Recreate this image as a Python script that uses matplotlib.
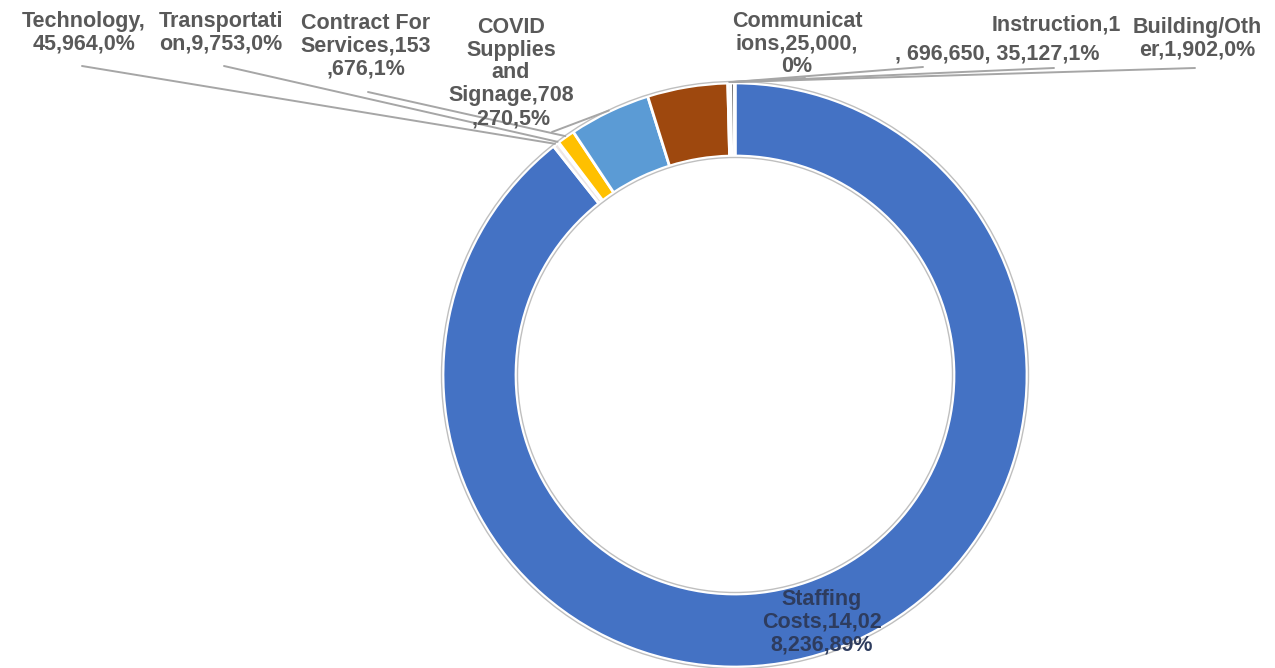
import numpy as np
import matplotlib
matplotlib.use("Agg")
import matplotlib.pyplot as plt
from matplotlib.patches import Circle

# slices, clockwise from 12 o'clock
categories = ["Staffing Costs", "Technology", "Transportation", "Contract For Services",
              "COVID Supplies and Signage", "Instruction", "Communications", "Other",
              "Building/Other"]
amounts = [14028236, 45964, 9753, 153676, 708270, 696650, 25000, 35127, 1902]
colors = ["#4472C4", "#EDE6E6", "#A5A5A5", "#FFC000", "#5B9BD5", "#9E480E",
          "#7F7F7F", "#636363", "#A5A5A5"]

# label texts as printed on the chart
label_texts = ["Technology,\n45,964,0%", "Transportati\non,9,753,0%",
               "Contract For\nServices,153\n,676,1%",
               "COVID\nSupplies\nand\nSignage,708\n,270,5%",
               "Communicat\nions,25,000,\n0%", "Instruction,1",
               ", 696,650, 35,127,1%", "Building/Oth\ner,1,902,0%"]
label_pos = [(84, 33), (221, 33), (366, 46), (511, 73), (797, 44), (1056, 25),
             (997, 54), (1197, 39)]
# which wedge each leader line runs to, and where the line starts
leader_target = [1, 2, 3, 4, 6, 7, 7, 8]
leader_start = [(82, 66), (224, 66), (368, 92), (552, 132), (805, 78), (923, 67),
                (1054, 68), (1195, 68)]

W, H = 1275, 668
cx, cy, R = 735, 375, 292
ring = 73

fig = plt.figure(figsize=(W / 100, H / 100), dpi=100)
ax = fig.add_axes([0, 0, 1, 1])

wedges, _ = ax.pie(amounts, colors=colors, startangle=90, counterclock=False,
                   radius=R, center=(cx, H - cy),
                   wedgeprops=dict(width=ring, edgecolor="white", linewidth=2.0))

# thin grey outline around the ring
ax.add_patch(Circle((cx, H - cy), R + 1.5, fill=False, ec="#BFBFBF", lw=1.0))
ax.add_patch(Circle((cx, H - cy), R - ring - 1.5, fill=False, ec="#BFBFBF", lw=1.0))

ax.set_xlim(0, W)
ax.set_ylim(0, H)
ax.set_aspect("equal")
ax.axis("off")

lbl_font = dict(fontsize=15.5, fontweight="bold", color="#595959",
                family=["Liberation Sans", "DejaVu Sans"], linespacing=1.12)

for txt, (x, y) in zip(label_texts, label_pos):
    ax.text(x, H - y, txt, ha="center", va="center", **lbl_font)

for (sx, sy), k in zip(leader_start, leader_target):
    w = wedges[k]
    ang = np.deg2rad((w.theta1 + w.theta2) / 2)
    ex = cx + (R + 1) * np.cos(ang)
    ey = (H - cy) + (R + 1) * np.sin(ang)
    ax.plot([sx, ex], [H - sy, ey], color="#A6A6A6", lw=1.4, solid_capstyle="round")

ax.text(822, H - 622, "Staffing\nCosts,14,02\n8,236,89%", ha="center", va="center",
        fontsize=15.5, fontweight="bold", color="#2E3C5E",
        family=["Liberation Sans", "DejaVu Sans"], linespacing=1.12)

fig.savefig("out.png", dpi=100)
